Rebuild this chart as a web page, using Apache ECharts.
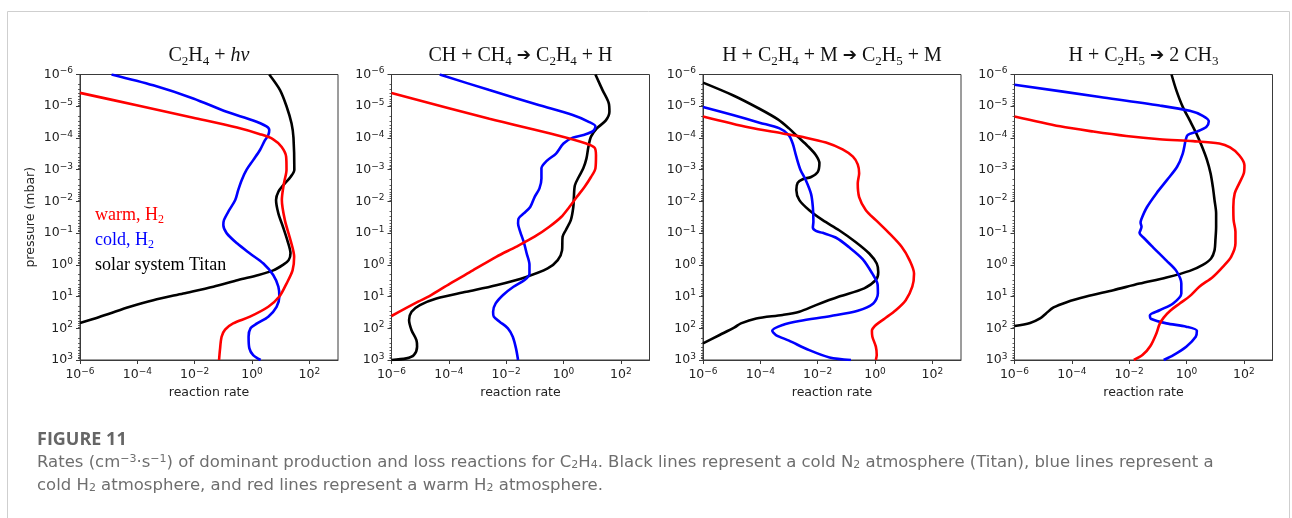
<!DOCTYPE html>
<html>
<head>
<meta charset="utf-8">
<script src="https://cdn.jsdelivr.net/npm/echarts@6/dist/echarts.min.js"></script>
<style>
html,body{margin:0;padding:0;background:#fff;}
#chart{width:1292px;height:518px;}
</style>
</head>
<body>
<div id="chart"></div>
<script>
// ---------- DATA: [reaction rate, pressure (mbar)] ----------
// Panel 1: C2H4 + hv
const hv_warm = [[1e-6,3.8e-6],[9.5e-5,9.3e-6],[8.9e-3,2.3e-5],[0.30,4.7e-5],[1.9,7.6e-5],[5.5,1.1e-4],[10.7,1.9e-4],[15.5,3.9e-4],[16,1e-3],[13,2.7e-3],[11,9.1e-3],[14,3.9e-2],[22,0.166],[29.5,0.56],[26,1.5],[16,3.9],[9,10],[3.7,21],[0.85,43],[0.22,70],[0.115,110],[0.087,185],[0.076,490],[0.071,1000]];
const hv_cold = [[1.26e-5,1e-6],[3.6e-4,2.2e-6],[8.9e-3,5.7e-6],[0.13,1.5e-5],[1.1,2.8e-5],[3.2,4.3e-5],[4.0,5.6e-5],[3.7,8.1e-5],[2.8,1.2e-4],[1.9,2.4e-4],[1.1,5.0e-4],[0.65,1e-3],[0.44,2.1e-3],[0.33,4.4e-3],[0.26,9.1e-3],[0.16,1.9e-2],[0.105,3.9e-2],[0.10,5.6e-2],[0.13,0.10],[0.30,0.21],[0.85,0.44],[2.5,0.91],[5.5,2.1],[8.3,4.9],[9,10],[7.2,21],[3.7,43],[1.5,70],[0.89,100],[0.76,185],[0.81,430],[1.1,700],[2.0,1000]];
const hv_titan = [[4.0,1e-6],[9.5,3.1e-6],[16,1e-5],[24,3.5e-5],[28,1e-4],[30,1e-3],[22,1.7e-3],[14,2.7e-3],[8.3,5e-3],[6.9,9.1e-3],[8.3,2.4e-2],[12,6.3e-2],[17,0.166],[22,0.44],[19,0.71],[12,1.0],[5.5,1.5],[1.7,2.1],[0.33,3.0],[4.5e-2,4.9],[4.0e-3,8],[3.6e-4,13],[5.5e-5,21],[1.1e-5,34],[3.3e-6,49],[1e-6,68]];
// Panel 2: CH + CH4 -> C2H4 + H
const ch_warm = [[1e-6,3.8e-6],[2.6e-3,2.5e-5],[0.55,8.1e-5],[6.2,1.5e-4],[12,2.0e-4],[13.6,3.5e-4],[13,9.1e-4],[9.1,1.7e-3],[5.4,3.5e-3],[2.9,7.3e-3],[1.6,1.5e-2],[0.83,3.1e-2],[0.32,6.3e-2],[0.098,0.13],[2.2e-2,0.27],[4.5e-3,0.56],[6.9e-4,1.5],[1.1e-4,3.9],[2.1e-5,9.7],[8.5e-6,14.5],[1e-6,41]];
const ch_cold = [[4.8e-5,1e-6],[2.6e-3,3.1e-6],[0.145,9.3e-6],[2.1,1.9e-5],[7.6,3.1e-5],[13,4.3e-5],[11,6.0e-5],[5.4,7.9e-5],[2.1,9.8e-5],[1.0,1.5e-4],[0.55,3.1e-4],[0.26,5.3e-4],[0.17,9.1e-4],[0.17,1.9e-3],[0.145,3.9e-3],[0.098,7.3e-3],[0.069,1.5e-2],[0.041,2.4e-2],[0.027,3.5e-2],[0.026,5.0e-2],[0.031,9.1e-2],[0.041,0.19],[0.052,0.44],[0.065,1.0],[0.065,1.9],[0.044,3.0],[0.018,4.9],[7.8e-3,8.9],[4.3e-3,16.5],[3.5e-3,30],[3.7e-3,43],[5.9e-3,62],[0.0115,100],[0.017,185],[0.022,430],[0.026,1000]];
const ch_titan = [[13,1e-6],[23,3.1e-6],[38,8.1e-6],[40,1.5e-5],[30,2.8e-5],[14.5,5.0e-5],[9.1,9.1e-5],[7.4,1.9e-4],[6.3,4.5e-4],[4.9,9.1e-4],[3.4,1.7e-3],[2.5,3.1e-3],[2.3,7.3e-3],[2.2,1.5e-2],[1.8,3.9e-2],[1.2,8.1e-2],[0.93,0.13],[0.89,0.35],[0.63,0.71],[0.28,1.3],[0.05,2.4],[4.5e-3,4.4],[4.1e-4,7.1],[3.7e-5,11.5],[9.8e-6,18.6],[5.0e-6,30],[4.1e-6,55],[5.0e-6,115],[7.4e-6,235],[7.8e-6,380],[6.0e-6,700],[3.3e-6,890],[1e-6,1000]];
// Panel 3: H + C2H4 + M -> C2H5 + M
const m_warm = [[1e-6,2.1e-5],[4.2e-5,4.7e-5],[6.0e-4,7.2e-5],[3.9e-3,9.8e-5],[1.95e-2,1.4e-4],[7.4e-2,2.3e-4],[0.17,3.9e-4],[0.25,6.8e-4],[0.28,1.3e-3],[0.25,2.7e-3],[0.28,7.3e-3],[0.48,1.9e-2],[1.07,3.9e-2],[3.1,0.10],[8.5,0.27],[16,0.71],[23,1.9],[20,4.9],[11.8,13],[5.3,27],[2.2,49],[1.07,79],[0.78,120],[0.81,185],[1.07,380],[1.15,700],[1.07,1000]];
const m_cold = [[1e-6,1.05e-5],[1.1e-5,1.9e-5],[9.3e-5,3.3e-5],[4.7e-4,5.0e-5],[9.8e-4,8.1e-5],[1.35e-3,1.5e-4],[1.8e-3,3.9e-4],[2.5e-3,1e-3],[3.9e-3,2.2e-3],[5.9e-3,5.9e-3],[6.8e-3,1.55e-2],[7.1e-3,4.4e-2],[6.8e-3,6.6e-2],[8.7e-3,8.5e-2],[1.5e-2,9.8e-2],[4.4e-2,0.14],[0.126,0.28],[0.37,0.66],[0.81,1.9],[1.23,4.1],[1.26,8.0],[0.87,16.5],[0.25,28],[0.029,41],[2.3e-3,59],[6.0e-4,79],[2.6e-4,120],[3.5e-4,163],[1.0e-3,245],[5.1e-3,490],[0.026,830],[0.145,1000]];
const m_titan = [[1e-6,1.8e-6],[1.1e-5,4.5e-6],[9.3e-5,1.2e-5],[4.1e-4,2.6e-5],[1.0e-3,5.0e-5],[2.0e-3,9.1e-5],[4.5e-3,1.8e-4],[8.7e-3,3.5e-4],[1.15e-2,6.3e-4],[1.0e-2,1.2e-3],[5.9e-3,1.7e-3],[3.0e-3,2.0e-3],[2.0e-3,2.6e-3],[1.8e-3,4.4e-3],[2.3e-3,9.1e-3],[5.1e-3,1.9e-2],[1.5e-2,3.9e-2],[5.6e-2,8.1e-2],[0.21,0.19],[0.63,0.44],[1.15,0.91],[1.3,1.7],[1.07,3.0],[0.42,5.5],[5.6e-2,10],[8.7e-3,18.6],[2.3e-3,30],[6.0e-4,38],[7.2e-5,49],[2.1e-5,70],[1.26e-5,94],[3.8e-6,163],[1e-6,300]];
// Panel 4: H + C2H5 -> 2 CH3
const c2h5_warm = [[1e-6,2.1e-5],[3.9e-5,4.3e-5],[5.6e-4,6.3e-5],[7.9e-3,8.7e-5],[0.115,1.1e-4],[1.7,1.26e-4],[14,1.5e-4],[33,2.0e-4],[69,3.5e-4],[105,7.2e-4],[100,1.3e-3],[69,2.7e-3],[48,5.6e-3],[43,1.5e-2],[44,3.9e-2],[51,9.1e-2],[51,0.21],[36,0.56],[18.5,1.15],[8.3,2.4],[2.8,4.9],[1.3,9.7],[0.58,16.5],[0.27,28],[0.16,46],[0.115,74],[0.089,145],[0.055,360],[0.029,700],[0.0145,1000]];
const c2h5_cold = [[1e-6,2.1e-6],[9.6e-4,5.1e-6],[0.115,9.5e-6],[1.3,1.4e-5],[3.7,2.0e-5],[6.0,3.0e-5],[4.9,4.5e-5],[2.3,6.3e-5],[1.1,8.1e-5],[0.93,1.2e-4],[0.74,3.1e-4],[0.47,8.1e-4],[0.21,2.1e-3],[0.089,5.6e-3],[0.042,1.5e-2],[0.027,3.5e-2],[0.025,4.7e-2],[0.027,6.3e-2],[0.023,0.10],[0.032,0.14],[0.068,0.28],[0.20,0.74],[0.44,1.55],[0.66,3.9],[0.66,8.0],[0.34,16.5],[0.115,27],[0.053,39],[0.057,50],[0.20,70],[0.98,89],[2.3,120],[2.1,185],[0.98,380],[0.35,700],[0.16,1000]];
const c2h5_titan = [[0.30,1e-6],[0.44,3.1e-6],[0.74,1.05e-5],[1.3,2.8e-5],[2.2,7.2e-5],[3.5,1.9e-4],[5.2,5.0e-4],[6.9,1.3e-3],[8.3,3.5e-3],[9.5,9.1e-3],[10.8,2.4e-2],[10.8,6.3e-2],[10.2,0.166],[9.5,0.35],[7.2,0.63],[3.7,1.0],[1.3,1.55],[0.20,2.5],[0.023,3.9],[2.8e-3,6.3],[3.2e-4,10],[6.6e-5,15],[2.3e-5,22],[1.26e-5,34],[7.8e-6,49],[3.5e-6,68],[1e-6,85]];

// ---------- TEXT / TICKS ----------
const PANEL_TITLES = [
  '{n|C}{s|2}{n|H}{s|4}{n| + }{i|hv}',
  '{n|CH + CH}{s|4}{n| }{a|\u2794}{n| C}{s|2}{n|H}{s|4}{n| + H}',
  '{n|H + C}{s|2}{n|H}{s|4}{n| + M }{a|\u2794}{n| C}{s|2}{n|H}{s|5}{n| + M}',
  '{n|H + C}{s|2}{n|H}{s|5}{n| }{a|\u2794}{n| 2 CH}{s|3}'
];
const X_TICKS = [1e-6, 1e-4, 1e-2, 1, 1e2];
const Y_TICKS = [1e-6, 1e-5, 1e-4, 1e-3, 1e-2, 1e-1, 1, 1e1, 1e2, 1e3];
const X_NAME = 'reaction rate';
const Y_NAME = 'pressure (mbar)';
const LEGEND = [
  {text: '{n|warm, H}{s|2}', color: '#ff0000'},
  {text: '{n|cold, H}{s|2}', color: '#0000ff'},
  {text: '{n|solar system Titan}', color: '#000000'}
];
const CAPTION_HEAD = 'FIGURE 11';
const CAPTION_LINES = [
  'Rates (cm{sup|\u22123}\u00b7s{sup|\u22121}) of dominant production and loss reactions for C{sub|2}H{sub|4}. Black lines represent a cold N{sub|2} atmosphere (Titan), blue lines represent a',
  'cold H{sub|2} atmosphere, and red lines represent a warm H{sub|2} atmosphere.'
];

const PANELS = [
  {warm: hv_warm, cold: hv_cold, titan: hv_titan},
  {warm: ch_warm, cold: ch_cold, titan: ch_titan},
  {warm: m_warm, cold: m_cold, titan: m_titan},
  {warm: c2h5_warm, cold: c2h5_cold, titan: c2h5_titan}
];
const COLORS = {warm: '#ff0000', cold: '#0000ff', titan: '#000000'};

// ---------- LAYOUT ----------
const GRID_LEFT = [80, 391.5, 703, 1014.5];
const GRID_TOP = 74.5, GRID_W = 258, GRID_H = 285.5;
const AXIS_COLOR = '#3a3a3a';
const LABEL_COLOR = '#222';
const SANS = 'DejaVu Sans';
const SERIF = 'Liberation Serif';

// minor tick positions (2..9 x 10^k) for the log pressure axis
const MINOR_Y = [];
for (let k = -6; k < 3; k++) for (let m = 2; m <= 9; m++) MINOR_Y.push(+(m + 'e' + k));

function powLabel(v) {
  const e = Math.round(Math.log10(v));
  return '{b|10}{s|' + (e < 0 ? '\u2212' + (-e) : String(e)) + '}';
}
const tickRich = {
  b: {fontSize: 12.5, fontFamily: SANS, color: LABEL_COLOR, lineHeight: 16},
  s: {fontSize: 9, fontFamily: SANS, color: LABEL_COLOR, lineHeight: 9, verticalAlign: 'top'}
};

const grids = [], xAxes = [], yAxes = [], series = [];
PANELS.forEach((p, i) => {
  grids.push({left: GRID_LEFT[i], top: GRID_TOP, width: GRID_W, height: GRID_H,
    show: true, borderColor: AXIS_COLOR, borderWidth: 1, backgroundColor: 'transparent'});
  xAxes.push({
    type: 'log', logBase: 10, gridIndex: i, min: 1e-6, max: 1e3,
    name: X_NAME, nameLocation: 'middle', nameGap: 25,
    nameTextStyle: {fontFamily: SANS, fontSize: 12.5, color: LABEL_COLOR},
    axisLine: {show: true, lineStyle: {color: AXIS_COLOR, width: 1}},
    axisTick: {show: true, length: 4, customValues: X_TICKS, lineStyle: {color: AXIS_COLOR}},
    axisLabel: {customValues: X_TICKS, formatter: powLabel, rich: tickRich, margin: 7, showMaxLabel: true},
    splitLine: {show: false}, minorTick: {show: false}
  });
  yAxes.push({
    type: 'log', logBase: 10, gridIndex: i, min: 1e-6, max: 1e3, inverse: true, position: 'left',
    name: i === 0 ? Y_NAME : '', nameLocation: 'middle', nameGap: 43, nameRotate: 90,
    nameTextStyle: {fontFamily: SANS, fontSize: 12.5, color: LABEL_COLOR},
    axisLine: {show: true, lineStyle: {color: AXIS_COLOR, width: 1}},
    axisTick: {show: true, length: 4, customValues: Y_TICKS, lineStyle: {color: AXIS_COLOR}},
    axisLabel: {customValues: Y_TICKS, formatter: powLabel, rich: tickRich, margin: 7},
    splitLine: {show: false}
  });
  // minor-tick axis (drawn at the left edge, ticks pointing outward)
  yAxes.push({
    type: 'log', logBase: 10, gridIndex: i, min: 1e-6, max: 1e3, inverse: true,
    position: 'right', offset: -GRID_W,
    axisLine: {show: false},
    axisTick: {show: true, inside: true, length: 2, customValues: MINOR_Y, lineStyle: {color: AXIS_COLOR, width: 0.8}},
    axisLabel: {show: false}, splitLine: {show: false}
  });
  ['titan', 'cold', 'warm'].forEach(key => {
    series.push({
      type: 'line', xAxisIndex: i, yAxisIndex: i * 2, data: p[key],
      showSymbol: false, smooth: 0.3, silent: true,
      lineStyle: {color: COLORS[key], width: 2.6}
    });
  });
});

const graphics = [];
graphics.push({type: 'rect', shape: {x: 7.5, y: 11.5, width: 1282, height: 540},
  style: {fill: 'none', stroke: '#cfcfcf', lineWidth: 1}, silent: true});
PANEL_TITLES.forEach((t, i) => {
  graphics.push({type: 'text', x: GRID_LEFT[i] + GRID_W / 2, y: 56,
    style: {text: t, align: 'center', verticalAlign: 'middle', fill: '#111',
      rich: {
        n: {fontFamily: SERIF, fontSize: 20, lineHeight: 24, fill: '#111'},
        i: {fontFamily: SERIF, fontSize: 20, lineHeight: 24, fontStyle: 'italic', fill: '#111'},
        s: {fontFamily: SERIF, fontSize: 13, lineHeight: 14, verticalAlign: 'bottom', fill: '#111'},
        a: {fontFamily: SANS, fontSize: 17, lineHeight: 24, fill: '#111'}
      }}});
});
LEGEND.forEach((l, j) => {
  graphics.push({type: 'text', x: 95, y: 215 + j * 25,
    style: {text: l.text, align: 'left', verticalAlign: 'middle', fill: l.color,
      rich: {
        n: {fontFamily: SERIF, fontSize: 18, lineHeight: 22, fill: l.color},
        s: {fontFamily: SERIF, fontSize: 12, lineHeight: 12, verticalAlign: 'bottom', fill: l.color}
      }}});
});
const CAP_COLOR = '#6e6e6e';
graphics.push({type: 'text', x: 37, y: 440,
  style: {text: CAPTION_HEAD, align: 'left', verticalAlign: 'middle', fill: '#666',
    fontFamily: 'Open Sans', fontSize: 18, fontWeight: 'bold'}});
CAPTION_LINES.forEach((t, j) => {
  graphics.push({type: 'text', x: 37, y: 462.5 + j * 23,
    style: {text: t, align: 'left', verticalAlign: 'middle', fill: CAP_COLOR,
      fontFamily: SANS, fontSize: 16.5,
      rich: {
        sup: {fontFamily: SANS, fontSize: 11, lineHeight: 11, verticalAlign: 'top', fill: CAP_COLOR},
        sub: {fontFamily: SANS, fontSize: 11, lineHeight: 11, verticalAlign: 'bottom', fill: CAP_COLOR}
      }}});
});

const chart = echarts.init(document.getElementById('chart'), null, {renderer: 'canvas'});
chart.setOption({
  animation: false,
  backgroundColor: '#ffffff',
  grid: grids, xAxis: xAxes, yAxis: yAxes, series: series,
  graphic: graphics
});
</script>
</body>
</html>
